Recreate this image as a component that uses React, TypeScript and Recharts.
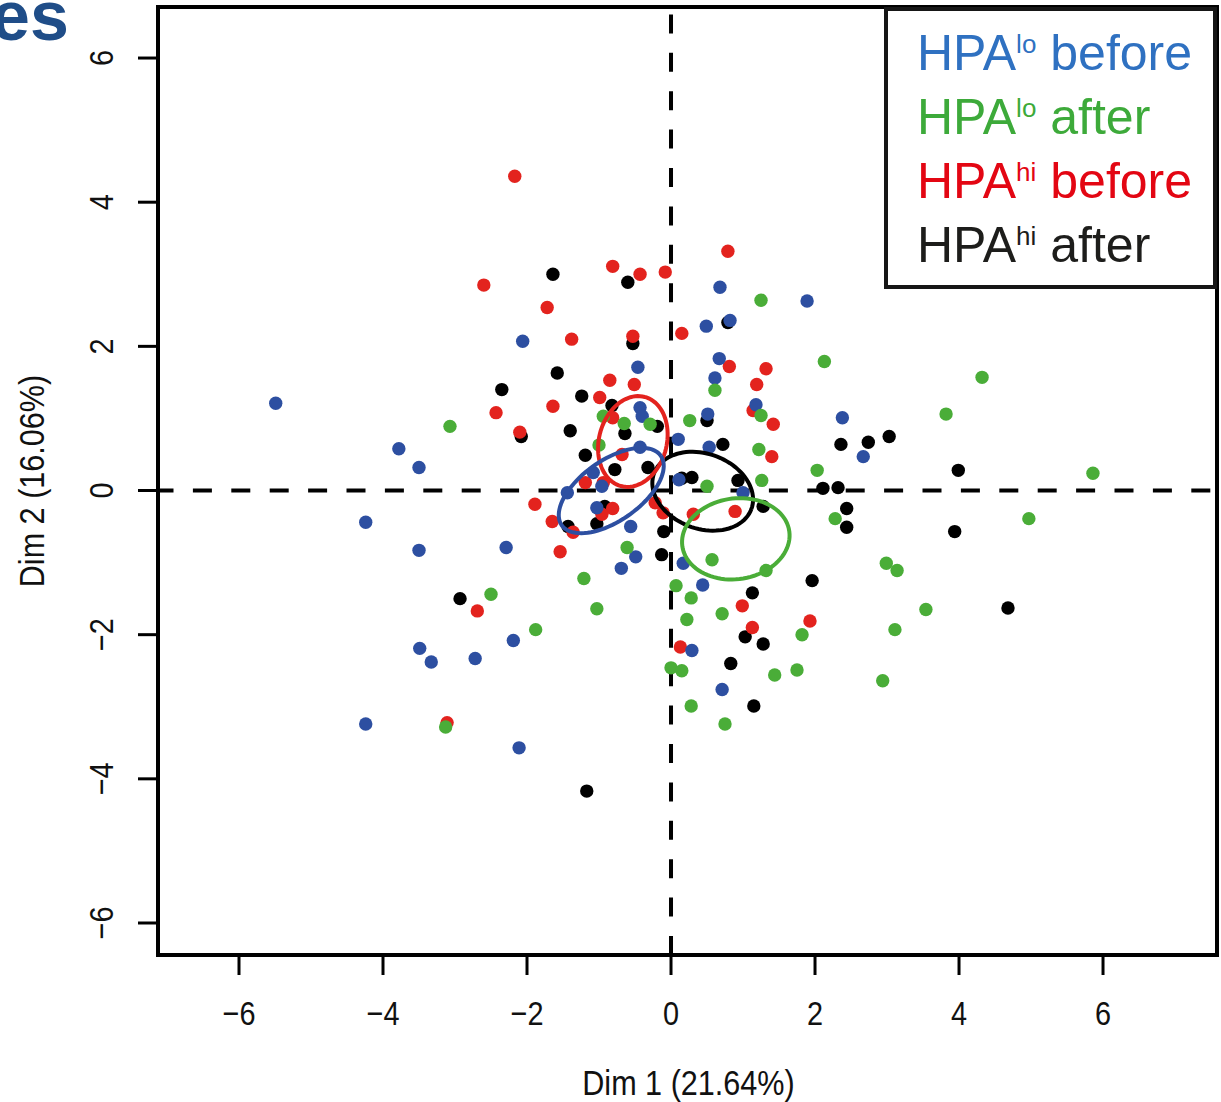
import { ScatterChart, Scatter, XAxis, YAxis, ReferenceLine, ReferenceArea, Legend, Label } from 'recharts'

interface Pt {
  x: number
  y: number
}

// axis ranges + ticks (R base-graphics style, 4% padding)
const X_DOMAIN: [number, number] = [-7.125, 7.583]
const Y_DOMAIN: [number, number] = [-6.444, 6.708]
const X_TICKS = [-6, -4, -2, 0, 2, 4, 6]
const Y_TICKS = [-6, -4, -2, 0, 2, 4, 6]

const X_LABEL = 'Dim 1 (21.64%)'
const Y_LABEL = 'Dim 2 (16.06%)'

// HPA lo before
const loBefore: Pt[] = [
  { x: -5.49, y: 1.21 }, { x: -3.78, y: 0.58 }, { x: -3.5, y: 0.32 }, { x: -4.24, y: -0.44 },
  { x: -3.5, y: -0.83 }, { x: -2.29, y: -0.79 }, { x: -3.49, y: -2.19 }, { x: -3.33, y: -2.38 },
  { x: -2.72, y: -2.33 }, { x: -2.19, y: -2.08 }, { x: -4.24, y: -3.24 }, { x: -2.11, y: -3.57 },
  { x: -2.06, y: 2.07 }, { x: -0.46, y: 1.71 }, { x: -0.43, y: 1.15 }, { x: -0.4, y: 1.03 },
  { x: -0.43, y: 0.6 }, { x: -1.08, y: 0.25 }, { x: -0.96, y: 0.06 }, { x: -1.44, y: -0.03 },
  { x: -1.03, y: -0.24 }, { x: -0.56, y: -0.5 }, { x: -0.49, y: -0.92 }, { x: -0.69, y: -1.08 },
  { x: 0.1, y: 0.71 }, { x: 0.11, y: 0.15 }, { x: 0.51, y: 1.06 }, { x: 0.53, y: 0.6 },
  { x: 1.0, y: -0.03 }, { x: 0.17, y: -1.01 }, { x: 0.44, y: -1.31 }, { x: 0.29, y: -2.22 },
  { x: 0.71, y: -2.76 }, { x: 0.68, y: 2.82 }, { x: 1.89, y: 2.63 }, { x: 0.49, y: 2.28 },
  { x: 0.82, y: 2.36 }, { x: 0.67, y: 1.83 }, { x: 0.61, y: 1.56 }, { x: 1.18, y: 1.19 },
  { x: 2.38, y: 1.01 }, { x: 2.67, y: 0.47 },
]

// HPA lo after
const loAfter: Pt[] = [
  { x: -3.07, y: 0.89 }, { x: -2.5, y: -1.44 }, { x: -1.88, y: -1.93 }, { x: -3.13, y: -3.28 },
  { x: -1.21, y: -1.22 }, { x: -1.03, y: -1.64 }, { x: -0.61, y: -0.79 }, { x: -0.94, y: 1.03 },
  { x: -0.65, y: 0.93 }, { x: -0.29, y: 0.92 }, { x: -1.0, y: 0.63 }, { x: 0.26, y: 0.97 },
  { x: 0.61, y: 1.39 }, { x: 1.25, y: 2.64 }, { x: 2.13, y: 1.79 }, { x: 1.25, y: 1.04 },
  { x: 1.22, y: 0.57 }, { x: 1.26, y: 0.14 }, { x: 0.5, y: 0.06 }, { x: 2.03, y: 0.28 },
  { x: 2.28, y: -0.39 }, { x: 0.07, y: -1.32 }, { x: 0.28, y: -1.49 }, { x: 0.22, y: -1.79 },
  { x: 0.71, y: -1.71 }, { x: 0.57, y: -0.96 }, { x: 1.32, y: -1.11 }, { x: 1.44, y: -2.56 },
  { x: 1.75, y: -2.49 }, { x: 1.82, y: -2.0 }, { x: 0.0, y: -2.46 }, { x: 0.15, y: -2.5 },
  { x: 0.28, y: -2.99 }, { x: 0.75, y: -3.24 }, { x: 2.99, y: -1.01 }, { x: 3.14, y: -1.11 },
  { x: 2.94, y: -2.64 }, { x: 3.11, y: -1.93 }, { x: 3.54, y: -1.65 }, { x: 4.32, y: 1.57 },
  { x: 3.82, y: 1.06 }, { x: 5.86, y: 0.24 }, { x: 4.97, y: -0.39 },
]

// HPA hi before
const hiBefore: Pt[] = [
  { x: -2.17, y: 4.36 }, { x: -2.6, y: 2.85 }, { x: -1.72, y: 2.54 }, { x: -1.38, y: 2.1 },
  { x: -0.81, y: 3.11 }, { x: -0.43, y: 3.0 }, { x: -0.08, y: 3.03 }, { x: 0.79, y: 3.32 },
  { x: -0.53, y: 2.14 }, { x: 0.15, y: 2.18 }, { x: -2.43, y: 1.08 }, { x: -2.1, y: 0.81 },
  { x: -1.64, y: 1.17 }, { x: -0.85, y: 1.53 }, { x: -0.51, y: 1.47 }, { x: -0.99, y: 1.29 },
  { x: -0.81, y: 1.01 }, { x: 0.81, y: 1.72 }, { x: 1.32, y: 1.69 }, { x: 1.19, y: 1.47 },
  { x: 1.14, y: 1.11 }, { x: 1.42, y: 0.92 }, { x: 1.4, y: 0.47 }, { x: -0.68, y: 0.5 },
  { x: -1.19, y: 0.11 }, { x: -0.94, y: 0.11 }, { x: -1.89, y: -0.19 }, { x: -1.65, y: -0.43 },
  { x: -1.36, y: -0.58 }, { x: -1.54, y: -0.85 }, { x: -0.81, y: -0.25 }, { x: -0.96, y: -0.33 },
  { x: -0.22, y: -0.17 }, { x: -0.11, y: -0.31 }, { x: 0.31, y: -0.33 }, { x: 0.89, y: -0.29 },
  { x: 0.99, y: -1.6 }, { x: 1.13, y: -1.9 }, { x: 1.93, y: -1.81 }, { x: 0.13, y: -2.17 },
  { x: -2.69, y: -1.67 }, { x: -3.11, y: -3.22 },
]

// HPA hi after
const hiAfter: Pt[] = [
  { x: -1.64, y: 3.0 }, { x: -0.6, y: 2.89 }, { x: -0.53, y: 2.04 }, { x: -1.58, y: 1.63 },
  { x: -2.35, y: 1.4 }, { x: -1.24, y: 1.31 }, { x: -0.82, y: 1.18 }, { x: -1.4, y: 0.83 },
  { x: -2.08, y: 0.75 }, { x: -0.64, y: 0.79 }, { x: -0.19, y: 0.89 }, { x: -1.19, y: 0.49 },
  { x: -0.78, y: 0.29 }, { x: -0.32, y: 0.32 }, { x: 0.5, y: 0.97 }, { x: 0.72, y: 0.64 },
  { x: 0.79, y: 2.33 }, { x: 2.36, y: 0.64 }, { x: 2.74, y: 0.67 }, { x: 3.03, y: 0.75 },
  { x: 3.99, y: 0.28 }, { x: 2.11, y: 0.03 }, { x: 2.32, y: 0.04 }, { x: 0.15, y: 0.17 },
  { x: 0.29, y: 0.18 }, { x: 0.93, y: 0.14 }, { x: 1.28, y: -0.22 }, { x: 2.44, y: -0.25 },
  { x: 2.44, y: -0.51 }, { x: 3.94, y: -0.57 }, { x: 4.68, y: -1.63 }, { x: 1.96, y: -1.25 },
  { x: 1.13, y: -1.42 }, { x: 1.03, y: -2.03 }, { x: 1.28, y: -2.13 }, { x: 0.83, y: -2.4 },
  { x: 1.15, y: -2.99 }, { x: -0.1, y: -0.57 }, { x: -0.13, y: -0.89 }, { x: -1.43, y: -0.5 },
  { x: -1.03, y: -0.46 }, { x: -0.92, y: -0.22 }, { x: -1.17, y: -4.17 }, { x: -2.93, y: -1.5 },
]

// confidence ellipses: centre, semi-axes, rotation (deg)
const ellipseParams = [
  { id: 'hiAfter', cx: 0.44, cy: -0.01, a: 0.72, b: 0.52, angle: -20 },
  { id: 'hiBefore', cx: -0.53, cy: 0.68, a: 0.64, b: 0.47, angle: 75 },
  { id: 'loBefore', cx: -0.83, cy: 0.0, a: 0.84, b: 0.42, angle: 35 },
  { id: 'loAfter', cx: 0.9, cy: -0.67, a: 0.75, b: 0.56, angle: 8 },
]

const colors: Record<string, string> = {
  loBefore: '#2d4fa1',
  loAfter: '#4aad38',
  hiBefore: '#e3231e',
  hiAfter: '#000000',
}

const legendItems = [
  { id: 'loBefore', sup: 'lo', tail: 'before', text: '#2f71c1' },
  { id: 'loAfter', sup: 'lo', tail: 'after', text: '#3daa3a' },
  { id: 'hiBefore', sup: 'hi', tail: 'before', text: '#e30613' },
  { id: 'hiAfter', sup: 'hi', tail: 'after', text: '#1d1d1b' },
]

// draw order (later on top)
const pointSeries = [
  { id: 'hiAfter', data: hiAfter },
  { id: 'hiBefore', data: hiBefore },
  { id: 'loBefore', data: loBefore },
  { id: 'loAfter', data: loAfter },
]

const FONT = "'Liberation Sans Narrow', 'Liberation Sans', Arial, sans-serif"
const LEGEND_FONT = "'Liberation Sans', Arial, Helvetica, sans-serif"
// source figure uses a condensed helvetica for the axes
const SQUEEZE = 0.85

function ellipseOutline(e: { cx: number; cy: number; a: number; b: number; angle: number }): Pt[] {
  const th = (e.angle * Math.PI) / 180
  const pts: Pt[] = []
  for (let i = 0; i <= 90; i++) {
    const t = (i / 90) * Math.PI * 2
    const u = e.a * Math.cos(t)
    const v = e.b * Math.sin(t)
    pts.push({ x: e.cx + u * Math.cos(th) - v * Math.sin(th), y: e.cy + u * Math.sin(th) + v * Math.cos(th) })
  }
  return pts
}

const fmt = (v: number) => (v < 0 ? `\u2212${Math.abs(v)}` : `${v}`)

const XTick = ({ x, y, payload }: any) => (
  <text
    transform={`translate(${x}, ${y + 50}) scale(${SQUEEZE}, 1)`}
    textAnchor="middle"
    fontSize={34}
    fontFamily={FONT}
    fill="#111"
  >
    {fmt(payload.value)}
  </text>
)

const YTick = ({ x, y, payload }: any) => (
  <text
    transform={`translate(${x - 25}, ${y}) rotate(-90) scale(${SQUEEZE}, 1)`}
    textAnchor="middle"
    fontSize={34}
    fontFamily={FONT}
    fill="#111"
  >
    {fmt(payload.value)}
  </text>
)

const XLabel = ({ viewBox }: any) => (
  <text
    transform={`translate(${viewBox.x + viewBox.width / 2 + 1}, 1095) scale(${SQUEEZE}, 1)`}
    textAnchor="middle"
    fontSize={36}
    fontFamily={FONT}
    fill="#111"
  >
    {X_LABEL}
  </text>
)

const YLabel = ({ viewBox }: any) => {
  const cy = viewBox.y + viewBox.height / 2
  return (
    <text
      transform={`translate(44, ${cy}) rotate(-90) scale(${SQUEEZE}, 1)`}
      textAnchor="middle"
      fontSize={36}
      fontFamily={FONT}
      fill="#111"
    >
      {Y_LABEL}
    </text>
  )
}

const LegendBox = () => (
  <div
    style={{
      width: 333,
      height: 282,
      boxSizing: 'border-box',
      border: '4px solid #161616',
      background: '#fff',
      paddingTop: 10,
      paddingLeft: 29,
      fontFamily: LEGEND_FONT,
      fontSize: 50,
      lineHeight: '64px',
      textAlign: 'left',
    }}
  >
    {legendItems.map((it) => (
      <div key={it.id} style={{ color: it.text, whiteSpace: 'nowrap', height: 64 }}>
        HPA
        <span style={{ fontSize: 26, position: 'relative', top: -17 }}>{it.sup}</span> {it.tail}
      </div>
    ))}
  </div>
)

export default function App() {
  return (
    <div style={{ position: 'absolute', left: 0, top: 0, width: 1221, height: 1102, background: '#fff', overflow: 'hidden' }}>
      <svg width={120} height={60} style={{ position: 'absolute', left: 0, top: 0 }}>
        <text x={-9} y={40} fontSize={70} fontWeight="bold" fontFamily={LEGEND_FONT} fill="#1f4d88">
          es
        </text>
      </svg>
      <ScatterChart width={1221} height={1102} margin={{ top: 7, right: 4, bottom: 0, left: 0 }}>
        <XAxis
          type="number"
          dataKey="x"
          domain={X_DOMAIN}
          ticks={X_TICKS}
          allowDataOverflow
          height={147}
          axisLine={false}
          tickSize={20}
          tickMargin={0}
          tickLine={{ stroke: '#000', strokeWidth: 3 }}
          tick={<XTick />}
        >
          <Label content={<XLabel />} />
        </XAxis>
        <YAxis
          type="number"
          dataKey="y"
          domain={Y_DOMAIN}
          ticks={Y_TICKS}
          allowDataOverflow
          width={158}
          axisLine={false}
          tickSize={20}
          tickMargin={0}
          tickLine={{ stroke: '#000', strokeWidth: 3 }}
          tick={<YTick />}
        >
          <Label content={<YLabel />} />
        </YAxis>
        <ReferenceLine x={0} stroke="#000" strokeWidth={4} strokeDasharray="19 19.4" />
        <ReferenceLine y={0} stroke="#000" strokeWidth={4} strokeDasharray="19 19.4" strokeDashoffset={3.5} />
        {pointSeries.map((s) => (
          <Scatter
            key={s.id}
            name={s.id}
            data={s.data}
            fill={colors[s.id]}
            isAnimationActive={false}
            shape={(p: any) => <circle cx={p.cx} cy={p.cy} r={6.7} fill={colors[s.id]} />}
          />
        ))}
        {ellipseParams.map((e) => (
          <Scatter
            key={`ell-${e.id}`}
            name={`ellipse-${e.id}`}
            data={ellipseOutline(e)}
            line={{ stroke: colors[e.id], strokeWidth: 4 }}
            lineType="joint"
            shape={() => <g />}
            isAnimationActive={false}
          />
        ))}
        <ReferenceArea
          x1={X_DOMAIN[0]}
          x2={X_DOMAIN[1]}
          y1={Y_DOMAIN[0]}
          y2={Y_DOMAIN[1]}
          fill="none"
          stroke="#000"
          strokeWidth={4}
        />
        <Legend
          layout="vertical"
          align="center"
          verticalAlign="middle"
          content={<LegendBox />}
          wrapperStyle={{ left: 884, top: 7, width: 333, height: 282 }}
        />
      </ScatterChart>
    </div>
  )
}
